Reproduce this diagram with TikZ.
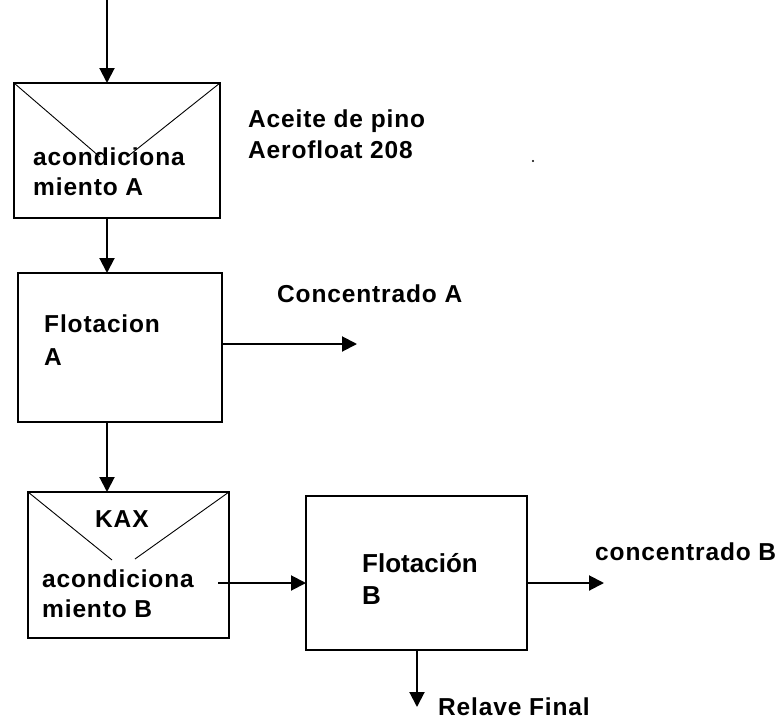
\documentclass[tikz,border=0pt]{standalone}
\usepackage{fontspec}
\setmainfont{Liberation Sans}[LetterSpace=3.5]
\usetikzlibrary{arrows.meta}
\tikzset{
  unitbox/.style={draw=black, line width=1.6pt, minimum width=#1, inner sep=0pt, outer sep=0pt, rectangle},
  lbl/.style={anchor=base west, inner sep=0pt, font=\fontsize{24.5}{31}\selectfont\bfseries},
  plainlbl/.style={lbl, font=\fontsize{26}{32}\selectfont\bfseries\addfontfeature{LetterSpace=0}},
  flow/.style={line width=2pt, -{Triangle[length=15pt,width=15pt]}},
  vee/.style={line width=0.9pt}
}
\begin{document}
\begin{tikzpicture}[x=1pt,y=-1pt]
  \useasboundingbox (0,0) rectangle (782,720);

  % process boxes (corner to corner)
  \node[unitbox=206pt, minimum height=135pt, anchor=north west] (acA) at (14,83) {};
  \node[unitbox=204pt, minimum height=149pt, anchor=north west] (flA) at (18,273) {};
  \node[unitbox=201pt, minimum height=146pt, anchor=north west] (acB) at (28,492) {};
  \node[unitbox=221pt, minimum height=154pt, anchor=north west] (flB) at (306,496) {};

  % V marks of the conditioning tanks
  \draw[vee] (acA.north west) -- (100,157);
  \draw[vee] (acA.north east) -- (127,157);
  \draw[vee] (acB.north west) -- (112,560);
  \draw[vee] (acB.north east) -- (135,559);

  % labels inside the boxes
  \node[lbl] (tA1) at (33,165) {acondiciona};
  \node[lbl] (tA2) at (33,195) {miento A};
  \node[lbl] (tF1) at (44,332) {Flotacion};
  \node[lbl] (tF2) at (44,365) {A};
  \node[lbl] (kax) at (95,527) {KAX};
  \node[lbl] (tB1) at (42,587) {acondiciona};
  \node[lbl] (tB2) at (42,617) {miento B};
  \node[plainlbl] (tG1) at (362,572) {Flotación};
  \node[plainlbl] (tG2) at (362,604) {B};

  % reagent and product labels
  \node[lbl] (reag1) at (248,127) {Aceite de pino};
  \node[lbl] (reag2) at (248,158) {Aerofloat 208};
  \node[lbl] (concA) at (277,302) {Concentrado A};
  \node[lbl] (concB) at (595,560) {concentrado B};
  \node[lbl] (relave) at (438,715) {Relave Final};
  \fill (533,161) circle (1.2pt);

  % free ends of the streams
  \coordinate (feed) at (107,0);
  \coordinate (outA) at (357,344);
  \coordinate (outB) at (604,583);
  \coordinate (tail) at (417,707);

  % streams
  \draw[flow] (feed) -- (acA.north -| feed);
  \draw[flow] (acA.south -| feed) -- (flA.north -| feed);
  \draw[flow] (flA.east |- outA) -- (outA);
  \draw[flow] (flA.south -| feed) -- (acB.north -| feed);
  \draw[flow] ([xshift=-11pt]acB.east |- outB) -- (flB.west |- outB);
  \draw[flow] (flB.east |- outB) -- (outB);
  \draw[flow] (flB.south -| tail) -- (tail);
\end{tikzpicture}
\end{document}
